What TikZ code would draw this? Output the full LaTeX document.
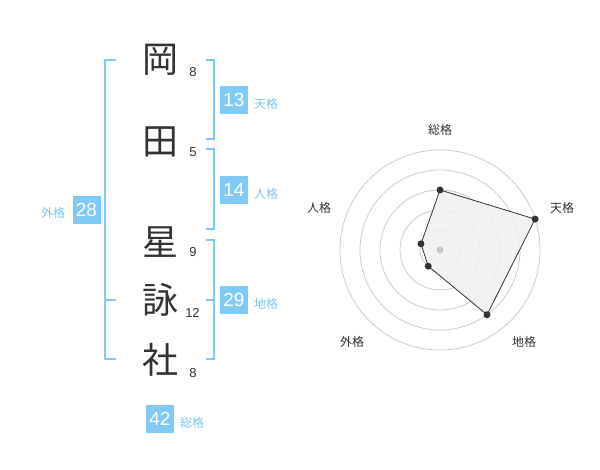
\documentclass[tikz,border=0pt]{standalone}
\usepackage{fontspec}
\setmainfont{Liberation Sans}
\newfontfamily\cjk{Noto Sans CJK JP}
\definecolor{kblue}{HTML}{80CAF8}
\definecolor{klabel}{HTML}{7FC4F0}
\definecolor{kdark}{HTML}{333333}
\begin{document}
\begin{tikzpicture}[x=1pt,y=-1pt,
 kanji/.style={font=\cjk\fontsize{36}{36}\selectfont, text=kdark, inner sep=0},
 strokes/.style={font=\fontsize{13}{13}\selectfont, text=kdark, inner sep=0},
 valbox/.style={fill=kblue, text=white, minimum width=28pt, minimum height=28pt, inner sep=0, font=\fontsize{19}{19}\selectfont},
 kaku/.style={font=\cjk\fontsize{12}{12}\selectfont, text=klabel, inner sep=0},
 bracket/.style={draw=kblue, line width=2pt},
 ring/.style={draw=black!20, line width=0.8pt},
 axlabel/.style={font=\cjk\fontsize{12}{12}\selectfont, text=kdark, inner sep=0},
 vdot/.style={circle, fill=kdark, inner sep=0, minimum size=7pt},
]
\useasboundingbox (0,0) rectangle (600,470);
% kanji
\node[kanji] (k1) at (160,60) {岡};
\node[kanji] (k2) at (160,142) {田};
\node[kanji] (k3) at (160,242) {星};
\node[kanji] (k4) at (160,300) {詠};
\node[kanji] (k5) at (160,360) {社};
% stroke counts
\node[strokes] (s1) at (193,72) {8};
\node[strokes] (s2) at (193,152) {5};
\node[strokes] (s3) at (193,252) {9};
\node[strokes] (s4) at (192.5,313) {12};
\node[strokes] (s5) at (193,373) {8};
% brackets
\draw[bracket] (206,60) -- (214,60) -- (214,139) -- (206,139);
\draw[bracket] (206,149) -- (214,149) -- (214,229) -- (206,229);
\draw[bracket] (206,240) -- (214,240) -- (214,359) -- (206,359);
\draw[bracket] (206,300) -- (214,300);
\draw[bracket] (116,60) -- (105,60) -- (105,359) -- (116,359);
\draw[bracket] (105,300) -- (116,300);
% value boxes
\node[valbox] (b13) at (234,100) {13};
\node[kaku] (l13) at (266,104) {天格};
\node[valbox] (b14) at (234,190) {14};
\node[kaku] (l14) at (266,194) {人格};
\node[valbox] (b29) at (234,300) {29};
\node[kaku] (l29) at (266,304) {地格};
\node[valbox] (b28) at (86.5,210) {28};
\node[kaku] (l28) at (53,213) {外格};
\node[valbox] (b42) at (160,419) {42};
\node[kaku] (l42) at (192,423) {総格};
% radar chart
\begin{scope}[shift={(440,250)}, y=1pt]
  \foreach \r in {20,40,60,80,100} \draw[ring] (0,0) circle[radius=\r pt];
  \coordinate (pS) at (90:60);
  \coordinate (pT) at (18:100);
  \coordinate (pC) at (-54:80);
  \coordinate (pG) at (-126:20);
  \coordinate (pJ) at (162:20);
  \filldraw[fill=black!6, draw=kdark, line width=0.8pt, fill opacity=0.85] (pS) -- (pT) -- (pC) -- (pG) -- (pJ) -- cycle;
  \fill[black!22] (0,0) circle[radius=3.5pt];
  \foreach \p in {pS,pT,pC,pG,pJ} \node[vdot] at (\p) {};
\end{scope}
\node[axlabel] (aS) at (440,130) {総格};
\node[axlabel] (aT) at (562,208) {天格};
\node[axlabel] (aC) at (524,342) {地格};
\node[axlabel] (aG) at (352,342) {外格};
\node[axlabel] (aJ) at (319,208) {人格};
\end{tikzpicture}
\end{document}
